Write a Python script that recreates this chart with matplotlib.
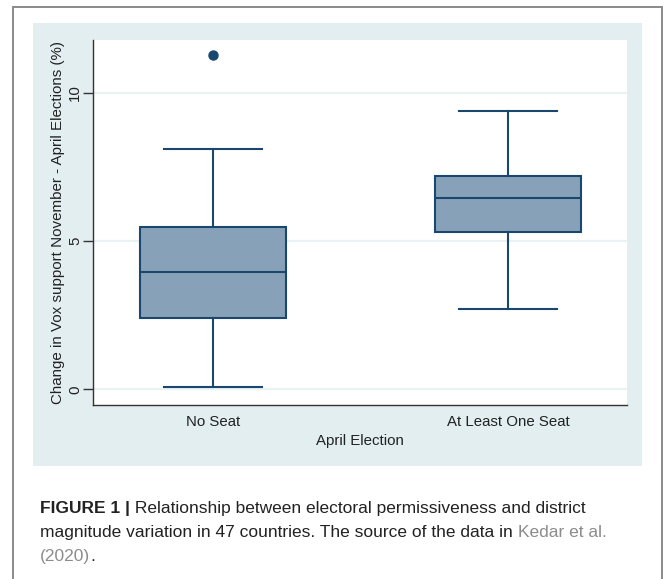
import matplotlib
matplotlib.use("Agg")
import matplotlib.pyplot as plt
from matplotlib.patches import Rectangle

plt.rcParams['font.family'] = ['Liberation Sans', 'DejaVu Sans']

# Data (summary statistics)
categories = ["No Seat", "At Least One Seat"]
q1 = [2.41, 5.31]
median = [3.94, 6.46]
q3 = [5.46, 7.19]
whisker_low = [0.09, 2.71]
whisker_high = [8.10, 9.38]
outliers = [[11.27], []]
yticks = [0, 5, 10]

W, H = 663, 579
fig = plt.figure(figsize=(W / 100, H / 100), dpi=100)
fig.patch.set_facecolor("white")

def fx(px):
    return px / W

def fy(py):
    return 1 - py / H

# outer frame
fig.patches.append(Rectangle((fx(13), fy(600)), fx(662) - fx(13), fy(7) - fy(600),
                             transform=fig.transFigure, fill=False,
                             edgecolor="#8a8a8a", lw=1.4, zorder=-2))
# light bluish panel
fig.patches.append(Rectangle((fx(33), fy(466)), fx(642) - fx(33), fy(23) - fy(466),
                             transform=fig.transFigure, facecolor="#e3eef0",
                             edgecolor="none", zorder=-2))

ax = fig.add_axes([fx(93), fy(405), fx(627) - fx(93), fy(40) - fy(405)])
ax.set_zorder(1)
ax.set_facecolor("white")

edge = "#1a476f"
fill = "#87a2b8"
stats = []
for i, c in enumerate(categories):
    stats.append(dict(label=c, q1=q1[i], med=median[i], q3=q3[i],
                      whislo=whisker_low[i], whishi=whisker_high[i],
                      fliers=outliers[i]))

ax.bxp(stats, positions=[1, 2], widths=0.495, patch_artist=True,
       showfliers=True,
       boxprops=dict(facecolor=fill, edgecolor=edge, lw=1.5),
       medianprops=dict(color=edge, lw=1.5),
       whiskerprops=dict(color=edge, lw=1.5),
       capprops=dict(color=edge, lw=1.5),
       capwidths=0.33,
       flierprops=dict(marker="o", markerfacecolor=edge, markeredgecolor=edge,
                       markersize=6.5))

ax.set_xlim(0.593, 2.403)
ax.set_ylim(-0.53, 11.78)
ax.set_yticks(yticks)
ax.set_yticklabels([str(t) for t in yticks], rotation=90, va="center",
                   fontsize=10.8, color="#222222")
ax.yaxis.grid(True, color="#eaf2f3", lw=1.6, zorder=0)
ax.set_axisbelow(True)
ax.tick_params(axis="y", length=7, width=1, color="#333333", pad=1)
ax.tick_params(axis="x", length=0, labelsize=10.8, labelcolor="#222222", pad=7)
for s in ["top", "right"]:
    ax.spines[s].set_visible(False)
for s in ["left", "bottom"]:
    ax.spines[s].set_color("#333333")
    ax.spines[s].set_linewidth(1)

ax.set_xlabel("April Election", fontsize=10.8, color="#222222", labelpad=4)
ax.set_ylabel("Change in Vox support November - April Elections (%)",
              fontsize=10.9, color="#222222", labelpad=2)

# caption
cap_fs = 12.5
dark = "#222222"
gray = "#8c8c8c"
t1 = fig.text(fx(40), fy(516), "FIGURE 1 |", fontsize=cap_fs, fontweight="bold",
              color=dark, ha="left", va="bottom")
plt.annotate(" Relationship between electoral permissiveness and district",
             xy=(1, 0), xycoords=t1, fontsize=cap_fs, color=dark,
             ha="left", va="bottom", annotation_clip=False)
t2 = fig.text(fx(40), fy(540),
              "magnitude variation in 47 countries. The source of the data in ",
              fontsize=cap_fs, color=dark, ha="left", va="bottom")
plt.annotate("Kedar et al.", xy=(1, 0), xycoords=t2, fontsize=cap_fs, color=gray,
             ha="left", va="bottom", annotation_clip=False)
t3 = fig.text(fx(40), fy(564), "(2020)", fontsize=cap_fs, color=gray,
              ha="left", va="bottom")
plt.annotate(".", xy=(1, 0), xycoords=t3, fontsize=cap_fs, color=dark,
             ha="left", va="bottom", annotation_clip=False)

fig.savefig("out.png", dpi=100)
